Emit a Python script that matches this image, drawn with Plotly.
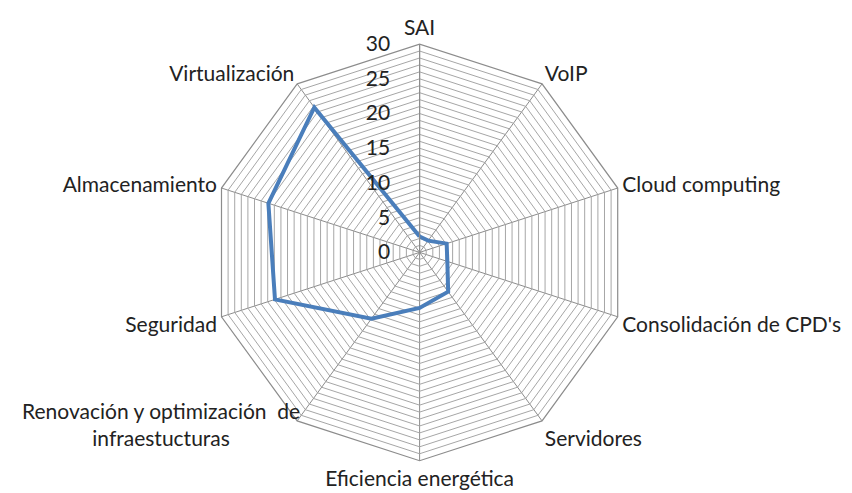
import plotly.graph_objects as go

categories = ["SAI", "VoIP", "Cloud computing", "Consolidación de CPD's", "Servidores",
              "Eficiencia energética", "Renovación y optimización  de infraestucturas",
              "Seguridad", "Almacenamiento", "Virtualización"]
values = [2.3, 2.1, 4.1, 4.2, 7.0, 8.0, 11.8, 21.9, 22.9, 25.8]
radial_ticks = list(range(0, 31))
NBSP = "\u00a0"
radial_ticktext = [(str(v) + NBSP * 4) if v % 5 == 0 else "" for v in radial_ticks]

# angular tick labels (the long one is drawn separately, centred on two lines)
long_label = "Renovación y optimización  de<br>infraestucturas"
angular_ticktext = ["" if c.startswith("Renovación") else c for c in categories]

fig = go.Figure()
fig.add_trace(go.Scatterpolar(
    r=values + values[:1],
    theta=categories + categories[:1],
    mode="lines",
    line=dict(color="#4a7ebb", width=4),
    showlegend=False,
    hoverinfo="skip",
))

W, H = 852, 493
cx, cy, R = 411.6, 244.4, 208.3
FS = 21
fig.update_layout(
    width=W, height=H,
    margin=dict(l=0, r=0, t=0, b=0),
    paper_bgcolor="white",
    font=dict(family="Lato, Open Sans, sans-serif", size=FS, color="#222222"),
    polar=dict(
        domain=dict(x=[(cx - R) / W, (cx + R) / W], y=[(H - cy - R) / H, (H - cy + R) / H]),
        bgcolor="white",
        gridshape="linear",
        angularaxis=dict(
            direction="clockwise", rotation=90,
            tickvals=categories, ticktext=angular_ticktext,
            showline=True, linecolor="#8c8c8c", linewidth=1.2,
            gridcolor="#8c8c8c", gridwidth=1.2,
            ticks="", tickfont=dict(size=FS, color="#222222"),
        ),
        radialaxis=dict(
            range=[0, 30], angle=90, side="counterclockwise",
            tickvals=radial_ticks, ticktext=radial_ticktext,
            showline=True, linecolor="#8c8c8c", linewidth=1.2,
            gridcolor="#a6a6a6", gridwidth=1,
            ticks="", tickfont=dict(size=FS, color="#222222"),
            tickangle=90,
        ),
    ),
    annotations=[dict(
        text=long_label, x=153 / W, y=1 - 416 / H, xref="paper", yref="paper",
        xanchor="center", yanchor="middle", align="center", showarrow=False,
        font=dict(size=FS, color="#222222"),
    )],
)

fig.write_html("out.html")
